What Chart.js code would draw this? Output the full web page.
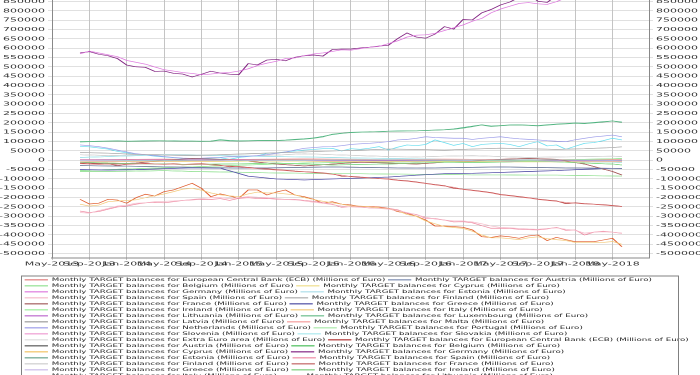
<!DOCTYPE html>
<html>
<head>
<meta charset="utf-8">
<script src="https://cdn.jsdelivr.net/npm/chart.js@4.4.1/dist/chart.umd.min.js"></script>
<style>
html, body { margin: 0; padding: 0; background: #fff; overflow: hidden; }
/* the reference looks like a taller chart squeezed to half height */
#wrap { width: 700px; height: 750px; transform: scaleY(0.5); transform-origin: 0 0; }
</style>
</head>
<body>
<div id="wrap"><canvas id="targetChart" width="700" height="750"></canvas></div>
<script>
// month index: 0 = May-2013
const months = [3,4,5,6,7,8,9,10,11,12,13,14,15,16,17,18,19,20,21,22,23,24,25,26,27,28,29,30,31,32,33,34,35,36,37,38,39,40,41,42,43,44,45,46,47,48,49,50,51,52,53,54,55,56,57,58,59,60,61];
const quarters = [3,6,9,12,15,18,21,24,27,30,33,36,39,42,45,48,51,54,57,60,61];

const xTickMonths = [0,4,8,12,16,20,24,28,32,36,40,44,48,52,56,60];
const xTickLabels = ['May-2013','Sep-2013','Jan-2014','May-2014','Sep-2014','Jan-2015','May-2015','Sep-2015','Jan-2016','May-2016','Sep-2016','Jan-2017','May-2017','Sep-2017','Jan-2018','May-2018'];
const yTickValues = [850000,800000,750000,700000,650000,600000,550000,500000,450000,400000,350000,300000,250000,200000,150000,100000,50000,0,-50000,-100000,-150000,-200000,-250000,-300000,-350000,-400000,-450000,-500000];

const countries = ['European Central Bank (ECB)','Austria','Belgium','Cyprus','Germany','Estonia','Spain','Finland','France','Greece','Ireland','Italy','Lithuania','Luxembourg','Latvia','Malta','Netherlands','Portugal','Slovenia','Slovakia','Extra Euro area'];

// monthly series (Millions of Euro)
const germanyA = [570000,585000,575000,565000,555000,535000,525000,515000,500000,485000,478000,470000,465000,458000,462000,468000,470000,478000,490000,508000,520000,530000,545000,548000,560000,570000,575000,583000,592000,590000,598000,605000,610000,625000,640000,660000,670000,672000,680000,695000,710000,725000,745000,760000,790000,810000,825000,840000,845000,838000,835000,850000,870000,880000,890000,900000,910000,930000,950000];
const germanyB = [575000,582000,568000,560000,545000,510000,501000,498000,476000,478000,466000,462000,446000,461000,477000,467000,461000,459000,518000,511000,537000,541000,533000,552000,560000,564000,558000,593000,596000,596000,602000,606000,612000,616000,652000,682000,660000,654000,676000,716000,703000,754000,752000,790000,808000,832000,848000,872000,892000,852000,846000,882000,906000,884000,898000,924000,903000,956000,976000];
const italyA = [-235000,-245000,-240000,-222000,-218000,-215000,-212000,-200000,-190000,-180000,-168000,-155000,-150000,-160000,-175000,-185000,-190000,-195000,-180000,-170000,-175000,-175000,-180000,-185000,-200000,-210000,-220000,-228000,-235000,-245000,-245000,-250000,-255000,-260000,-270000,-290000,-300000,-325000,-340000,-355000,-360000,-365000,-380000,-400000,-415000,-415000,-420000,-425000,-415000,-410000,-420000,-425000,-430000,-440000,-440000,-440000,-440000,-435000,-450000];
const italyB = [-209000,-234000,-230000,-209000,-213000,-230000,-200000,-182000,-191000,-168000,-159000,-141000,-123000,-150000,-195000,-180000,-191000,-204000,-159000,-159000,-186000,-170000,-159000,-186000,-195000,-209000,-230000,-222000,-235000,-239000,-248000,-248000,-250000,-257000,-275000,-284000,-300000,-320000,-352000,-352000,-355000,-359000,-373000,-409000,-413000,-405000,-410000,-418000,-405000,-400000,-430000,-413000,-425000,-436000,-436000,-436000,-427000,-418000,-463000];
const spainA = [-280000,-283000,-270000,-258000,-245000,-240000,-230000,-228000,-222000,-220000,-218000,-215000,-210000,-205000,-200000,-200000,-205000,-200000,-195000,-198000,-200000,-205000,-210000,-212000,-218000,-225000,-230000,-238000,-245000,-250000,-252000,-255000,-258000,-262000,-270000,-280000,-292000,-305000,-315000,-320000,-325000,-325000,-330000,-340000,-352000,-360000,-362000,-365000,-368000,-370000,-365000,-362000,-370000,-375000,-390000,-385000,-383000,-385000,-390000];
const spainB = [-272000,-280000,-275000,-262000,-250000,-245000,-235000,-228000,-225000,-228000,-222000,-215000,-212000,-209000,-210000,-205000,-215000,-204000,-200000,-205000,-204000,-208000,-210000,-209000,-215000,-220000,-227000,-235000,-252000,-248000,-250000,-255000,-255000,-257000,-265000,-284000,-290000,-311000,-312000,-320000,-330000,-329000,-335000,-350000,-364000,-364000,-365000,-370000,-372000,-373000,-368000,-359000,-375000,-373000,-400000,-385000,-380000,-385000,-391000];
const ecbA = [-18000,-20000,-22000,-20000,-25000,-22000,-20000,-18000,-20000,-22000,-20000,-25000,-22000,-20000,-25000,-28000,-30000,-35000,-40000,-45000,-48000,-52000,-55000,-60000,-62000,-66000,-70000,-75000,-80000,-88000,-92000,-95000,-98000,-102000,-108000,-112000,-118000,-125000,-132000,-138000,-145000,-156000,-162000,-168000,-175000,-185000,-190000,-196000,-202000,-210000,-215000,-220000,-226000,-230000,-234000,-236000,-240000,-244000,-248000];
const ecbB = [-15000,-18000,-20000,-18000,-28000,-20000,-18000,-16000,-19000,-20000,-18000,-22000,-20000,-18000,-22000,-26000,-35000,-33000,-38000,-42000,-46000,-50000,-53000,-58000,-61000,-64000,-68000,-72000,-85000,-86000,-90000,-93000,-97000,-100000,-106000,-110000,-116000,-123000,-130000,-136000,-150000,-155000,-160000,-166000,-173000,-183000,-188000,-194000,-200000,-208000,-213000,-218000,-232000,-228000,-232000,-235000,-238000,-242000,-247000];
const luxembourgA = [98000,100000,101000,102000,103000,101000,102000,103000,104000,105000,103000,102000,102000,101000,102000,108000,104000,103000,104000,105000,106000,105000,107000,110000,113000,118000,125000,140000,145000,148000,150000,153000,152000,155000,156000,157000,158000,159000,161000,163000,166000,172000,180000,189000,181000,185000,188000,189000,187000,184000,188000,192000,195000,198000,196000,200000,205000,210000,203000];
const luxembourgB = [100000,101000,102000,103000,104000,102000,103000,104000,105000,104000,104000,103000,103000,102000,103000,110000,106000,104000,105000,106000,107000,106000,108000,112000,115000,120000,128000,138000,144000,150000,151000,152000,154000,156000,157000,158000,158000,160000,162000,164000,168000,175000,183000,190000,183000,186000,189000,190000,188000,186000,190000,194000,197000,200000,198000,203000,207000,211000,205000];
const netherlandsA = [82000,78000,73000,65000,55000,45000,35000,30000,25000,20000,15000,12000,10000,11000,14000,15000,19000,19000,22000,25000,30000,37000,45000,55000,64000,68000,72000,73000,78000,85000,88000,91000,95000,100000,109000,112000,118000,126000,122000,120000,118000,118000,112000,118000,122000,126000,120000,115000,112000,109000,105000,102000,100000,110000,118000,125000,130000,135000,126000];
const netherlandsB = [75000,72000,66000,60000,48000,40000,32000,28000,22000,18000,14000,10000,8000,9000,12000,14000,5000,15000,20000,24000,37000,40000,45000,50000,55000,58000,62000,64000,50000,62000,59000,65000,73000,55000,70000,82000,78000,85000,109000,95000,80000,90000,73000,85000,88000,91000,85000,73000,88000,100000,77000,82000,59000,75000,91000,95000,105000,118000,109000];

// quarterly readings for the smaller balances
const austria = [-28000,-30000,-32000,-35000,-38000,-40000,-42000,-40000,-38000,-36000,-38000,-40000,-42000,-40000,-38000,-36000,-38000,-40000,-42000,-43000,-44000];
const belgium = [-10000,-15000,-18000,-20000,-22000,-20000,-18000,-15000,-20000,-25000,-22000,-20000,-15000,-10000,-12000,-10000,-5000,-8000,-15000,-20000,-25000];
const cyprus = [-8000,-8000,-7000,-7000,-6000,-6000,-5000,-5000,-5000,-6000,-6000,-6000,-7000,-7000,-7000,-8000,-8000,-8000,-8000,-8000,-8000];
const estonia = [0,1000,-1000,0,2000,1000,-2000,-1000,0,1000,2000,3000,2000,1000,0,2000,3000,2000,1000,0,1000];
const finland = [42000,38000,32000,28000,25000,30000,35000,40000,45000,50000,55000,60000,58000,55000,60000,65000,62000,58000,62000,68000,72000];
const france = [-10000,-20000,-15000,0,10000,5000,-5000,-20000,-30000,-20000,-10000,-15000,-20000,-10000,-5000,5000,10000,5000,-20000,-60000,-79000];
const greece = [-50000,-52000,-50000,-45000,-40000,-42000,-85000,-100000,-105000,-100000,-95000,-90000,-80000,-72000,-70000,-65000,-60000,-55000,-48000,-43000,-43000];
const ireland = [-55000,-50000,-45000,-40000,-35000,-30000,-25000,-20000,-15000,-12000,-10000,-10000,-8000,-5000,-5000,-3000,0,2000,5000,8000,10000];
const lithuania = [2000,3000,1000,2000,4000,3000,1000,0,-2000,-3000,-2000,-1000,-3000,-4000,-2000,-1000,0,-2000,-3000,-2000,-1000];
const latvia = [1000,0,-1000,-2000,-1000,0,1000,2000,1000,0,-1000,-2000,-3000,-2000,-1000,0,1000,0,-1000,-2000,-2000];
const malta = [3000,4000,5000,6000,5000,4000,5000,6000,7000,6000,5000,4000,5000,6000,5000,4000,3000,4000,5000,4000,4000];
const portugal = [-60000,-60000,-58000,-55000,-60000,-62000,-65000,-68000,-70000,-72000,-72000,-74000,-75000,-76000,-78000,-78000,-80000,-80000,-82000,-84000,-85000];
const slovenia = [-3000,-4000,-5000,-4000,-3000,-2000,-3000,-4000,-5000,-6000,-5000,-4000,-3000,-4000,-5000,-6000,-5000,-4000,-3000,-4000,-5000];
const slovakia = [15000,20000,25000,30000,28000,25000,22000,20000,18000,15000,12000,10000,8000,5000,3000,0,-3000,-5000,-8000,-10000,-12000];
const extraEuro = [30000,25000,28000,32000,30000,25000,22000,28000,35000,30000,25000,20000,18000,22000,25000,20000,15000,18000,20000,22000,20000];

const seriesA = [ecbA, austria, belgium, cyprus, germanyA, estonia, spainA, finland, france, greece, ireland, italyA, lithuania, luxembourgA, latvia, malta, netherlandsA, portugal, slovenia, slovakia, extraEuro];
const seriesB = [ecbB, austria, belgium, cyprus, germanyB, estonia, spainB, finland, france, greece, ireland, italyB, lithuania, luxembourgB, latvia, malta, netherlandsB, portugal, slovenia, slovakia, extraEuro];

const coloursA = ['#e07a7a','#7b8bb0','#8fe08f','#eedd88','#dd77dd','#aadde8','#f5b8c8','#aaaaaa','#a05a5a','#4848a0','#99ee99','#f2c97a','#bb66cc','#66bb88','#999999','#f49a9a','#9a9ae8','#a8e8a8','#ee9ad0','#a8e8ee','#dddddd'];
const coloursB = ['#b03030','#555555','#44bb55','#f0c060','#802080','#66a08a','#ee88a0','#cccccc','#c06060','#c8b8e8','#77cc77','#e05a2a','#9966cc','#33aa77','#bbbbbb','#ff7777','#66ddee','#66cc66','#cc77aa','#88ccdd','#aaaaaa'];

function toPoints(values) {
    const xs = values.length === months.length ? months : quarters;
    return values.map((v, i) => ({ x: xs[i], y: v }));
}

function makeSet(series, colours) {
    return series.map((values, i) => ({
        label: 'Monthly TARGET balances for ' + countries[i] + ' (Millions of Euro)',
        data: toPoints(values),
        borderColor: colours[i],
        backgroundColor: colours[i],
        borderWidth: 1.3,
        pointRadius: 0,
        tension: 0,
        yAxisID: 'y'
    }));
}

const legendFrame = {
    id: 'legendFrame',
    afterLayout(chart) {
        chart.legend.left += 22;
        chart.legend.right += 22;
    },
    afterDraw(chart) {
        const c = chart.ctx;
        const top = chart.legend.top;
        c.save();
        c.strokeStyle = '#808080';
        c.lineWidth = 2;
        c.beginPath();
        c.moveTo(21, top);
        c.lineTo(679, top);
        c.stroke();
        c.lineWidth = 1;
        c.beginPath();
        c.moveTo(21.5, top);
        c.lineTo(21.5, 760);
        c.moveTo(678.5, top);
        c.lineTo(678.5, 760);
        c.stroke();
        c.restore();
    }
};

Chart.defaults.font.family = 'DejaVu Sans';
Chart.defaults.color = '#222';

const yCommon = {
    min: -523400,
    max: 858600,
    afterBuildTicks: axis => { axis.ticks = yTickValues.map(v => ({ value: v })); },
    ticks: { font: { size: 11 }, color: '#333', padding: 3, callback: v => String(v) },
    border: { color: '#888' }
};

new Chart(document.getElementById('targetChart').getContext('2d'), {
    type: 'line',
    data: { datasets: makeSet(seriesA, coloursA).concat(makeSet(seriesB, coloursB)) },
    options: {
        responsive: false,
        animation: false,
        devicePixelRatio: 1,
        layout: { padding: 0 },
        plugins: {
            title: { display: false },
            tooltip: { enabled: false },
            legend: {
                position: 'bottom',
                align: 'start',
                maxHeight: 198,
                labels: {
                    boxWidth: 22,
                    boxHeight: 1,
                    padding: 3.3,
                    color: '#222',
                    font: { size: 8.7 }
                }
            }
        },
        scales: {
            x: {
                type: 'linear',
                min: 0,
                max: 63.9,
                afterBuildTicks: axis => { axis.ticks = xTickMonths.map(v => ({ value: v })); },
                afterFit: axis => { axis.height = 36; axis.paddingLeft = 0; axis.paddingRight = 0; },
                ticks: {
                    autoSkip: false,
                    maxRotation: 0,
                    minRotation: 0,
                    padding: 2,
                    font: { size: 11 },
                    color: '#333',
                    callback: (v, i) => xTickLabels[i]
                },
                grid: { color: '#c4c4c4', tickLength: 4 },
                border: { color: '#888', width: 2 }
            },
            y: Object.assign({}, yCommon, {
                position: 'left',
                afterFit: axis => { axis.width = 52; axis.paddingTop = 0; axis.paddingBottom = 0; },
                grid: { color: '#c0c0c0', tickLength: 4 }
            }),
            y2: Object.assign({}, yCommon, {
                position: 'right',
                afterFit: axis => { axis.width = 51; axis.paddingTop = 0; axis.paddingBottom = 0; },
                grid: { drawOnChartArea: false, color: '#c0c0c0', tickLength: 4 }
            })
        }
    },
    plugins: [legendFrame]
});
</script>
</body>
</html>
